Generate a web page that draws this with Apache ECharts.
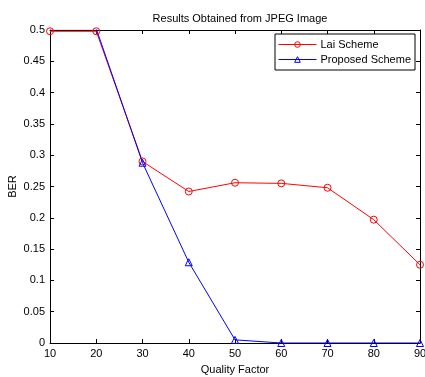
<!DOCTYPE html>
<html lang="en" style="height: 100%">
<head>
  <meta charset="utf-8">
</head>
<body style="height: 100%; margin: 0; background: #fff">
  <div id="container" style="width: 425px; height: 377px"></div>
  <script src="https://cdn.jsdelivr.net/npm/echarts@6/dist/echarts.min.js"></script>
  <script>
    const quality = [10, 20, 30, 40, 50, 60, 70, 80, 90];
    const laiScheme = [0.498, 0.498, 0.290, 0.242, 0.256, 0.255, 0.248, 0.197, 0.125];
    const proposedScheme = [0.502, 0.502, 0.288, 0.129, 0.005, 0, 0, 0, 0];

    const font = 'Liberation Sans, Arial, sans-serif';
    const chart = echarts.init(document.getElementById('container'), null, { renderer: 'canvas' });

    const xBase = {
      type: 'value', min: 10, max: 90, interval: 10,
      axisLine: { onZero: false, lineStyle: { color: '#000', width: 1 } },
      axisTick: { inside: true, length: 4, lineStyle: { color: '#000' } },
      splitLine: { show: false }
    };
    const yBase = {
      type: 'value', min: 0, max: 0.5, interval: 0.05,
      axisLine: { onZero: false, lineStyle: { color: '#000', width: 1 } },
      axisTick: { inside: true, length: 4, lineStyle: { color: '#000' } },
      splitLine: { show: false }
    };

    const option = {
      animation: false,
      textStyle: { fontFamily: font },
      title: {
        text: 'Results Obtained from JPEG Image',
        left: 235, top: 8, textAlign: 'center',
        textStyle: { fontSize: 11, fontWeight: 'normal', color: '#000', fontFamily: font }
      },
      legend: {
        orient: 'vertical', right: 10, top: 34,
        backgroundColor: '#fff', borderColor: '#000', borderWidth: 1,
        padding: [5, 4, 5, 3], itemGap: 4, itemWidth: 38, itemHeight: 7,
        lineStyle: { width: 1 },
        itemStyle: { borderWidth: 1 },
        textStyle: { fontSize: 11, color: '#000', fontFamily: font, padding: [0, 0, 0, -1] },
        data: ['Lai Scheme', 'Proposed Scheme']
      },
      grid: { left: 50, right: 5, top: 30, bottom: 34, containLabel: false, outerBoundsMode: 'none' },
      xAxis: [
        Object.assign({}, xBase, {
          position: 'bottom',
          name: 'Quality Factor', nameLocation: 'middle', nameGap: 21,
          nameTextStyle: { fontSize: 11, color: '#000', fontFamily: font },
          axisLabel: { fontSize: 11, color: '#000', margin: 5, fontFamily: font }
        }),
        Object.assign({}, xBase, { position: 'top', axisLabel: { show: false } })
      ],
      yAxis: [
        Object.assign({}, yBase, {
          position: 'left',
          name: 'BER', nameLocation: 'middle', nameGap: 32, nameRotate: 90,
          nameMoveOverlap: false,
          nameTextStyle: { fontSize: 11, color: '#000', fontFamily: font },
          axisLabel: { fontSize: 11, color: '#000', margin: 5, fontFamily: font }
        }),
        Object.assign({}, yBase, { position: 'right', axisLabel: { show: false } })
      ],
      series: [
        {
          name: 'Lai Scheme', type: 'line',
          data: quality.map((q, i) => [q, laiScheme[i]]),
          symbol: 'circle', symbolSize: 7,
          lineStyle: { color: '#ff0000', width: 1 },
          itemStyle: { color: 'rgba(255,255,255,0)', borderColor: '#ff0000', borderWidth: 1 },
          z: 3
        },
        {
          name: 'Proposed Scheme', type: 'line',
          data: quality.map((q, i) => [q, proposedScheme[i]]),
          symbol: 'triangle', symbolSize: 7,
          lineStyle: { color: '#0000ff', width: 1 },
          itemStyle: { color: 'rgba(255,255,255,0)', borderColor: '#0000ff', borderWidth: 1 },
          z: 4
        }
      ]
    };

    chart.setOption(option);
  </script>
</body>
</html>
